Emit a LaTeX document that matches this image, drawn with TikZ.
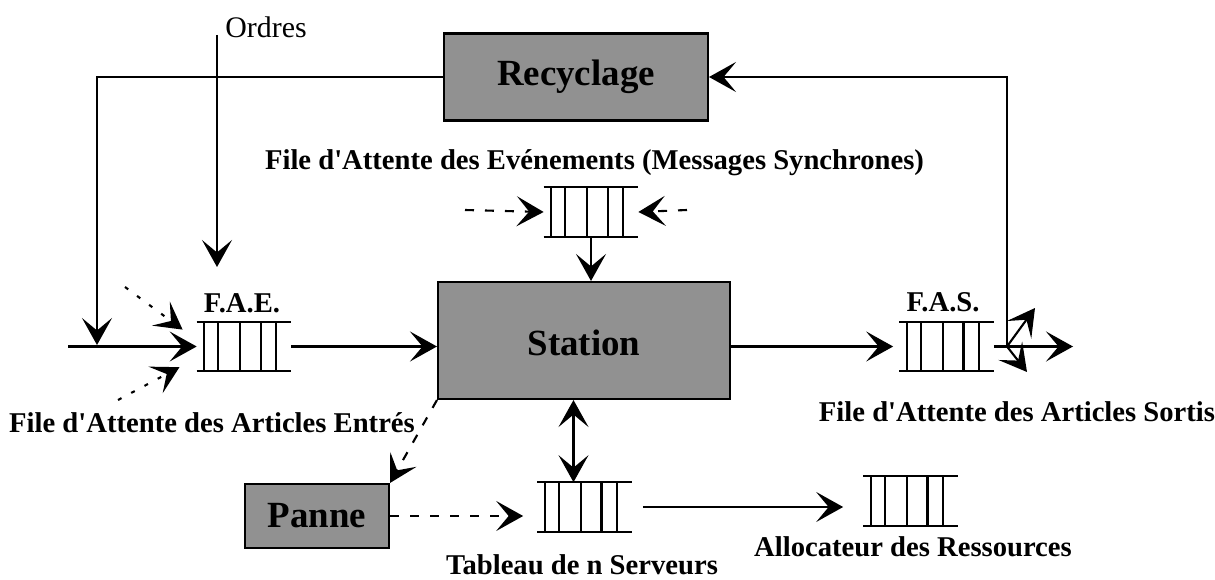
\documentclass[tikz,border=0pt]{standalone}
\usepackage{fontspec}
\setmainfont{Liberation Serif}
\usepackage{tikz}
\usetikzlibrary{calc,positioning,arrows.meta}
\usepackage{xcolor}
\definecolor{mygray}{RGB}{145,145,145}

% a waiting queue: two rails and five bars
\newcommand{\fileattente}[1]{%
  \draw[qline] (#1.north west) -- (#1.north east) (#1.south west) -- (#1.south east);
  \foreach \f in {0.08,0.23,0.46,0.68,0.84}
    \draw[qline] ($(#1.north west)!\f!(#1.north east)$) -- ($(#1.south west)!\f!(#1.south east)$);}

\begin{document}
\begin{tikzpicture}[x=0.02cm, y=0.02cm,
  box/.style={draw, line width=1.2pt, fill=mygray, inner sep=0pt, font=\fontsize{21}{25}\selectfont\bfseries},
  queue/.style={minimum width=1.88cm, minimum height=0.98cm, inner sep=0pt},
  qline/.style={line width=1.2pt},
  lbl/.style={font=\fontsize{16.3}{19}\selectfont\bfseries},
  arr/.style={line width=1.2pt, -{Stealth[length=0.54cm, width=0.6cm, inset=0.25cm]}},
  arrtwo/.style={line width=1.2pt, {Stealth[length=0.54cm, width=0.6cm, inset=0.25cm]}-{Stealth[length=0.54cm, width=0.6cm, inset=0.25cm]}},
  arrdash/.style={arr, dash pattern=on 0.18cm off 0.22cm},
  arrdot/.style={arr, dash pattern=on 0.08cm off 0.22cm}]
  \useasboundingbox (0,0) rectangle (1215,579);

  % Boxes
  \node[box, minimum width=5.28cm, minimum height=1.74cm] (recy) at (576,502) {Recyclage};
  \node[box, minimum width=5.84cm, minimum height=2.34cm, text height=0.62cm] (station) at (584,238.5) {Station};
  \node[box, minimum width=2.88cm, minimum height=1.28cm] (panne) at (317,63) {Panne};

  % Queues
  \node[queue] (evq) at (591,367) {};
  \node[queue] (fae) at (244,232.5) {};
  \node[queue] (fas) at (946.5,232.5) {};
  \node[queue] (tab) at (584.5,72) {};
  \node[queue] (alloc) at (910.5,78) {};
  \fileattente{evq}
  \fileattente{fae}
  \fileattente{fas}
  \fileattente{tab}
  \fileattente{alloc}

  % Labels
  \node[font=\fontsize{17}{20}\selectfont] (ordres) at (266,552) {Ordres};
  \node[lbl] (evtitle) at (594.5,416) {File d\textquotesingle Attente des Evénements (Messages Synchrones)};
  \node[lbl] (faelbl) at (242,276) {F.A.E.};
  \node[lbl] (faslbl) at (943,277) {F.A.S.};
  \node[lbl] (entres) at (212,156) {File d\textquotesingle Attente des Articles Entrés};
  \node[lbl] (sortis) at (1017,167) {File d\textquotesingle Attente des Articles Sortis};
  \node[lbl] (tabtxt) at (582,14) {Tableau de n Serveurs};
  \node[lbl] (alloctxt) at (913,32) {Allocateur des Ressources};

  % Free ends
  \coordinate (ordtop) at (217,544);
  \coordinate (ordbot) at (217,312);
  \coordinate (loopin) at (97,234);
  \coordinate (in) at (68,232.5);
  \coordinate (dtup) at (125,292);
  \coordinate (dtdown) at (118,179);
  \coordinate (evl) at (465,369);
  \coordinate (evr) at (687,369);
  \coordinate (split) at (1007,232.5);
  \coordinate (out) at (1073,232.5);
  \coordinate (diagup) at (1035,271);
  \coordinate (diagdown) at (1027,207);

  % Recycling loop
  \draw[arr] (recy.west) -| (loopin);
  \draw[arr] (split) |- (recy.east);

  % Inputs of F.A.E.
  \draw[arr] (ordtop) -- (ordbot);
  \draw[arr] (in) -- (fae.west);
  \draw[arrdot, shorten >=0.35cm] (dtup) -- ($(fae.west)+(0,6.5)$);
  \draw[arrdot, shorten >=0.39cm] (dtdown) -- ($(fae.west)+(0,-11.5)$);

  % Events
  \draw[arrdash] (evl) -- (evq.west);
  \draw[arrdash] (evr) -- (evq.east);
  \draw[arr] (evq.south) -- (evq.south |- station.north);

  % Main flow
  \draw[arr] (fae.east) -- (fae.east -| station.west);
  \draw[arr, shorten >=0.12cm] (station.east |- fas.west) -- (fas.west);
  \draw[arr] (fas.east) -- (out);
  \draw[arr] (split) -- (diagup);
  \draw[arr] (split) -- (diagdown);

  % Servers and resources
  \draw[arrtwo] ($(tab.north)+(-11,0)$) -- ($(tab.north |- station.south)+(-11,0)$);
  \draw[arrdash] (station.south west) -- (panne.north east);
  \draw[arrdash, shorten >=0.28cm] (panne.east) -- (panne.east -| tab.west);
  \draw[arr, shorten <=0.22cm, shorten >=0.4cm] (tab.east) -- (tab.east -| alloc.west);
\end{tikzpicture}
\end{document}
